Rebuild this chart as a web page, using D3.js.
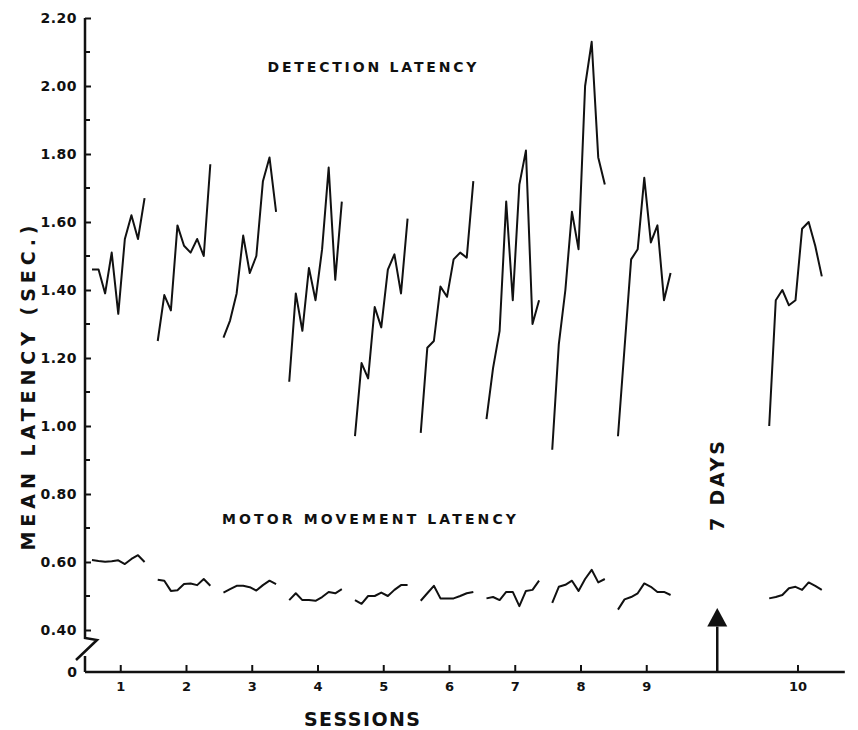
<!DOCTYPE html>
<html>
<head>
<meta charset="utf-8">
<script src="https://cdn.jsdelivr.net/npm/d3@7"></script>
<style>
  body { margin: 0; background: #fff; }
  svg { display: block; }
  text { font-family: "DejaVu Sans", sans-serif; font-weight: bold; fill: #111; }
</style>
</head>
<body>
<svg id="chart" width="858" height="730"></svg>
<script>
// session labels and where each session sits (in trial-block units)
var sessionLabels = ["1", "2", "3", "4", "5", "6", "7", "8", "9", "10"];
var sessionStart = [1, 11, 21, 31, 41, 51, 61, 71, 81, 104];
var sessionTicks = [5.3, 15.3, 25.3, 35.3, 45.3, 55.3, 65.3, 75.3, 85.3, 108.3];
var gapMark = 96.1; // the "7 DAYS" arrow

// detection latency, 9 trial blocks per session
var det1 = [1.46, 1.46, 1.39, 1.51, 1.33, 1.55, 1.62, 1.55, 1.67];
var det2 = [1.25, 1.385, 1.34, 1.59, 1.53, 1.51, 1.55, 1.50, 1.77];
var det3 = [1.26, 1.31, 1.39, 1.56, 1.45, 1.50, 1.72, 1.79, 1.63];
var det4 = [1.13, 1.39, 1.28, 1.465, 1.37, 1.52, 1.76, 1.43, 1.66];
var det5 = [0.97, 1.185, 1.14, 1.35, 1.29, 1.46, 1.505, 1.39, 1.61];
var det6 = [0.98, 1.23, 1.25, 1.41, 1.38, 1.49, 1.51, 1.495, 1.72];
var det7 = [1.02, 1.17, 1.28, 1.66, 1.37, 1.71, 1.81, 1.30, 1.37];
var det8 = [0.93, 1.24, 1.40, 1.63, 1.52, 2.00, 2.13, 1.79, 1.71];
var det9 = [0.97, 1.23, 1.49, 1.52, 1.73, 1.54, 1.59, 1.37, 1.45];
var det10 = [1.00, 1.37, 1.40, 1.355, 1.37, 1.58, 1.60, 1.53, 1.44];

// motor movement latency
var mot1 = [0.606, 0.603, 0.601, 0.602, 0.605, 0.594, 0.609, 0.620, 0.600];
var mot2 = [0.548, 0.545, 0.515, 0.517, 0.535, 0.537, 0.532, 0.550, 0.530];
var mot3 = [0.510, 0.520, 0.530, 0.530, 0.526, 0.516, 0.532, 0.545, 0.535];
var mot4 = [0.488, 0.508, 0.488, 0.488, 0.486, 0.497, 0.512, 0.508, 0.520];
var mot5 = [0.488, 0.477, 0.500, 0.500, 0.510, 0.500, 0.518, 0.532, 0.532];
var mot6 = [0.486, 0.508, 0.530, 0.493, 0.493, 0.493, 0.500, 0.508, 0.512];
var mot7 = [0.493, 0.497, 0.488, 0.512, 0.512, 0.470, 0.515, 0.518, 0.545];
var mot8 = [0.480, 0.527, 0.533, 0.545, 0.515, 0.550, 0.577, 0.540, 0.550];
var mot9 = [0.460, 0.490, 0.497, 0.508, 0.537, 0.527, 0.512, 0.512, 0.503];
var mot10 = [0.493, 0.497, 0.503, 0.523, 0.527, 0.518, 0.540, 0.530, 0.518];

var detection = [det1, det2, det3, det4, det5, det6, det7, det8, det9, det10];
var motor = [mot1, mot2, mot3, mot4, mot5, mot6, mot7, mot8, mot9, mot10];

var yTicks = [0.4, 0.6, 0.8, 1.0, 1.2, 1.4, 1.6, 1.8, 2.0, 2.2];
var yMinor = [0.5, 0.7, 0.9, 1.1, 1.3, 1.5, 1.7, 1.9, 2.1];

var svg = d3.select("#chart");

var baseY = 672, axisX = 85;

var x = d3.scaleLinear().domain([0, 116]).range([85.4, 848.1]);
var y = d3.scaleLinear().domain([0.4, 2.2]).range([630, 18]);

// lines
var line = d3.line()
    .x(function(d) { return x(d.b); })
    .y(function(d) { return y(d.v); });

function toPoints(arr, s) {
    return arr.map(function(v, j) { return {b: sessionStart[s] + j, v: v}; });
}

svg.append("g").selectAll("path.det")
    .data(detection)
    .enter().append("path")
    .attr("class", "det")
    .attr("d", function(d, i) { return line(toPoints(d, i)); })
    .attr("fill", "none")
    .attr("stroke", "#111")
    .attr("stroke-width", 2)
    .attr("stroke-linejoin", "round");

svg.append("g").selectAll("path.mot")
    .data(motor)
    .enter().append("path")
    .attr("class", "mot")
    .attr("d", function(d, i) { return line(toPoints(d, i)); })
    .attr("fill", "none")
    .attr("stroke", "#111")
    .attr("stroke-width", 2)
    .attr("stroke-linejoin", "round");

// y axis
var yAxis = svg.append("g")
    .attr("transform", "translate(" + axisX + ",0)")
    .call(d3.axisLeft(y).tickValues(yTicks).tickFormat(d3.format(".2f"))
        .tickSizeInner(-6).tickSizeOuter(0).tickPadding(8));
yAxis.select(".domain").remove();
yAxis.selectAll(".tick line").attr("stroke", "#111").attr("stroke-width", 2);
yAxis.selectAll(".tick text").style("font-size", "14px").style("letter-spacing", "0.5px");

svg.append("g").selectAll("line.minor")
    .data(yMinor)
    .enter().append("line")
    .attr("x1", axisX).attr("x2", axisX + 5)
    .attr("y1", function(d) { return y(d); })
    .attr("y2", function(d) { return y(d); })
    .attr("stroke", "#111").attr("stroke-width", 2);

// axis line with break
var y04 = y(0.4);
svg.append("path")
    .attr("d", "M" + axisX + "," + y(2.2) + "V" + (y04 + 8) +
        "L" + (axisX + 12) + "," + (y04 + 10) +
        "L" + (axisX - 9) + "," + (y04 + 30) +
        "M" + axisX + "," + (y04 + 26) + "V" + baseY)
    .attr("fill", "none").attr("stroke", "#111").attr("stroke-width", 2.5);

svg.append("text")
    .attr("x", axisX - 8).attr("y", baseY + 5)
    .attr("text-anchor", "end")
    .style("font-size", "14px")
    .text("0");

// x axis
var xAxis = svg.append("g")
    .attr("transform", "translate(0," + baseY + ")")
    .call(d3.axisBottom(x).tickValues(sessionTicks)
        .tickFormat(function(d, i) { return sessionLabels[i]; })
        .tickSizeInner(-7).tickSizeOuter(0).tickPadding(10));
xAxis.select(".domain").remove();
xAxis.selectAll(".tick line").attr("stroke", "#111").attr("stroke-width", 2);
xAxis.selectAll(".tick text").style("font-size", "13px");

svg.append("line")
    .attr("x1", axisX).attr("x2", x(115.5))
    .attr("y1", baseY).attr("y2", baseY)
    .attr("stroke", "#111").attr("stroke-width", 2.5);

// 7 days arrow
var ax = x(gapMark);
svg.append("line")
    .attr("x1", ax).attr("x2", ax)
    .attr("y1", baseY).attr("y2", y(0.41))
    .attr("stroke", "#111").attr("stroke-width", 2.5);
svg.append("path")
    .attr("d", "M" + ax + "," + y(0.465) + "L" + (ax + 10) + "," + y(0.41) +
        "L" + (ax - 10) + "," + y(0.41) + "Z")
    .attr("fill", "#111");

svg.append("text")
    .attr("transform", "translate(" + (ax + 7) + ",486) rotate(-90)")
    .attr("text-anchor", "middle")
    .attr("textLength", 90).attr("lengthAdjust", "spacing")
    .style("font-size", "19px")
    .text("7 DAYS");

// labels
svg.append("text")
    .attr("x", 372).attr("y", 72)
    .attr("text-anchor", "middle")
    .attr("textLength", 209).attr("lengthAdjust", "spacing")
    .style("font-size", "14px")
    .text("DETECTION  LATENCY");

svg.append("text")
    .attr("x", 369).attr("y", 524)
    .attr("text-anchor", "middle")
    .attr("textLength", 294).attr("lengthAdjust", "spacing")
    .style("font-size", "14px")
    .text("MOTOR  MOVEMENT  LATENCY");

svg.append("text")
    .attr("x", 362).attr("y", 726)
    .attr("text-anchor", "middle")
    .attr("textLength", 116).attr("lengthAdjust", "spacing")
    .style("font-size", "19px")
    .text("SESSIONS");

svg.append("text")
    .attr("transform", "translate(35,388) rotate(-90)")
    .attr("text-anchor", "middle")
    .attr("textLength", 325).attr("lengthAdjust", "spacing")
    .style("font-size", "19px")
    .text("MEAN  LATENCY  (SEC.)");
</script>
</body>
</html>
